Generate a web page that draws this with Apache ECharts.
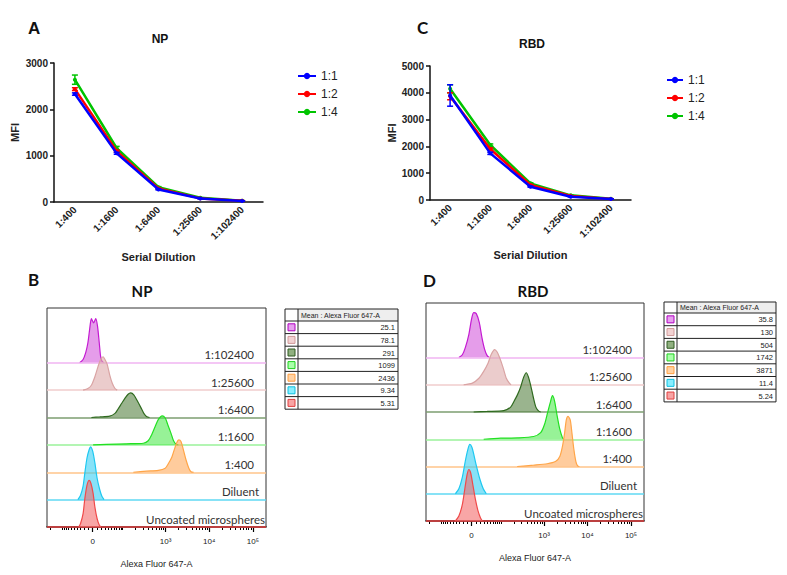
<!DOCTYPE html>
<html><head><meta charset="utf-8">
<script src="https://cdn.jsdelivr.net/npm/echarts@6/dist/echarts.min.js"></script>
<style>html,body{margin:0;padding:0;background:#fff}#c{width:787px;height:575px}</style>
</head><body><div id="c"></div>
<script>
// ---------- Data: line charts (A: NP, C: RBD) ----------
const dilutions = ['1:400', '1:1600', '1:6400', '1:25600', '1:102400'];
const ratioNames = ['1:1', '1:2', '1:4'];
const ratioColors = ['#0000ff', '#ff0000', '#00c400'];

const npMean11 = [2330, 1050, 270, 75, 20];
const npMean12 = [2436, 1099, 291, 78, 25];
const npMean14 = [2640, 1160, 320, 90, 28];
const npSd11 = [25, 20, 10, 5, 3];
const npSd12 = [30, 20, 10, 5, 3];
const npSd14 = [100, 40, 12, 6, 3];

const rbdMean11 = [3900, 1741, 497, 124, 37];
const rbdMean12 = [3870, 1903, 560, 150, 40];
const rbdMean14 = [4150, 2052, 622, 174, 45];
const rbdSd11 = [400, 40, 20, 8, 3];
const rbdSd12 = [130, 40, 20, 8, 3];
const rbdSd14 = [150, 40, 20, 8, 3];

const npYTicks = [0, 1000, 2000, 3000];
const rbdYTicks = [0, 1000, 2000, 3000, 4000, 5000];

// ---------- Data: offset histograms (B: NP, D: RBD) ----------
// rows from bottom to top
const histRowLabels = ['Uncoated microspheres', 'Diluent', '1:400', '1:1600', '1:6400', '1:25600', '1:102400'];
// [transformed Alexa Fluor 647-A position, count]
const npRed      = [[-0.32,0],[-0.28,12],[-0.22,49],[-0.18,104],[-0.13,153],[-0.08,170],[-0.04,159],[0.01,122],[0.05,73],[0.10,31],[0.15,7],[0.19,0]];
const npCyan     = [[-0.34,0],[-0.28,15],[-0.22,49],[-0.18,98],[-0.13,153],[-0.08,183],[-0.05,193],[0.00,177],[0.05,134],[0.10,79],[0.16,37],[0.21,12],[0.26,0]];
const npOrange   = [[0.93,0],[1.23,4],[1.50,7],[1.66,15],[1.73,31],[1.81,55],[1.86,79],[1.92,107],[1.97,118],[2.02,112],[2.08,79],[2.14,43],[2.20,15],[2.25,2],[2.31,0]];
const npGreen    = [[0.01,0],[0.31,2],[0.77,4],[1.16,6],[1.27,15],[1.35,37],[1.43,67],[1.50,92],[1.59,106],[1.66,98],[1.72,73],[1.79,43],[1.85,15],[1.91,2],[1.96,0]];
const npDkGreen  = [[-0.03,0],[0.16,2],[0.39,5],[0.51,15],[0.58,31],[0.66,51],[0.74,71],[0.81,85],[0.87,90],[0.94,83],[1.02,61],[1.10,37],[1.17,15],[1.23,4],[1.30,0]];
const npPink     = [[-0.22,0],[-0.11,6],[-0.03,18],[0.05,49],[0.12,85],[0.18,112],[0.24,122],[0.28,112],[0.33,95],[0.39,55],[0.45,24],[0.51,6],[0.56,0]];
const npMagenta  = [[-0.30,0],[-0.22,12],[-0.16,37],[-0.11,73],[-0.07,122],[-0.03,161],[0.02,146],[0.07,161],[0.11,134],[0.15,73],[0.18,24],[0.21,6],[0.25,0]];

const rbdRed     = [[-0.37,0],[-0.29,18],[-0.21,61],[-0.15,122],[-0.10,171],[-0.06,189],[-0.02,177],[0.03,134],[0.09,79],[0.15,37],[0.21,10],[0.25,0]];
const rbdCyan    = [[-0.37,0],[-0.29,18],[-0.21,61],[-0.14,122],[-0.08,165],[-0.04,181],[0.01,171],[0.05,146],[0.11,104],[0.19,55],[0.27,18],[0.34,0]];
const rbdOrange  = [[1.05,0],[1.43,5],[1.74,10],[1.93,18],[2.03,37],[2.09,73],[2.14,122],[2.18,171],[2.22,184],[2.27,171],[2.31,122],[2.35,67],[2.40,18],[2.44,2],[2.48,0]];
const rbdGreen   = [[0.28,0],[0.67,4],[1.05,5],[1.43,10],[1.59,24],[1.68,55],[1.75,98],[1.82,140],[1.86,160],[1.91,140],[1.97,85],[2.03,37],[2.09,6],[2.12,0]];
const rbdDkGreen = [[0.05,0],[0.36,2],[0.74,5],[0.90,18],[0.97,37],[1.05,61],[1.13,92],[1.20,128],[1.26,144],[1.31,128],[1.36,98],[1.42,55],[1.48,18],[1.54,4],[1.59,0]];
const rbdPink    = [[-0.18,0],[0.02,6],[0.17,24],[0.28,49],[0.38,79],[0.45,110],[0.53,129],[0.59,120],[0.65,98],[0.73,61],[0.80,24],[0.87,6],[0.91,0]];
const rbdMagenta = [[-0.29,0],[-0.21,10],[-0.14,37],[-0.06,85],[0.00,140],[0.05,165],[0.11,161],[0.18,128],[0.24,73],[0.30,31],[0.36,7],[0.41,0]];

// axis ticks of the fluorescence axis (raw intensities)
const xMajorValues = [0, 1000, 10000, 100000];
const xMajorLabels = ['0', '10³', '10⁴', '10⁵'];
const xMinorValues = [-200, -100, -90, -80, -70, -60, -50, -40, -30, -20, -10,
  10, 20, 30, 40, 50, 60, 70, 80, 90, 100, 200, 300, 400, 500, 600, 700, 800, 900,
  2000, 3000, 4000, 5000, 6000, 7000, 8000, 9000,
  20000, 30000, 40000, 50000, 60000, 70000, 80000, 90000];

// tables (top to bottom: 1:102400 ... Uncoated)
const tableHeader = 'Mean : Alexa Fluor 647-A';
const npTableValues = ['25.1', '78.1', '291', '1099', '2436', '9.34', '5.31'];
const rbdTableValues = ['35.8', '130', '504', '1742', '3871', '11.4', '5.24'];

// ---------- styles ----------
const histLine = ['#ef4a4a', '#1ec8f0', '#ffa548', '#22e022', '#2f6a1f', '#d9a3a3', '#c41ad2'];
const histFill = ['rgba(243,105,105,0.85)', 'rgba(45,205,242,0.82)', 'rgba(255,170,90,0.85)', 'rgba(70,232,70,0.8)',
                  'rgba(85,130,65,0.85)', 'rgba(222,170,170,0.85)', 'rgba(208,80,218,0.8)'];
const histBase = ['#ef4a4a', '#5fd8f3', '#ffc48a', '#9af29a', '#7d9e70', '#f0cccc', '#f0b4f2'];
const histLabelPad = [1, 7, 12, 12, 12, 12, 12];
// swatches listed top to bottom (reverse of rows)
const swFill = ['#e6a0ee', '#f2d2d2', '#90b080', '#aaffaa', '#ffd2a4', '#88eeff', '#f8a4a4'];
const swStroke = ['#b000c0', '#d09a9a', '#2f5a20', '#20d020', '#ff9f40', '#10c0e0', '#e04040'];

const W = 43;
function T(v) { const s = v < 0 ? -1 : 1; return s * Math.asinh(Math.abs(v) / W) / Math.LN10; }
const U_MIN = -1.046, U_MAX = 3.966;

const chart = echarts.init(document.getElementById('c'), null, { renderer: 'svg' });

const AX = '#111';
const lineFont = 'Liberation Sans';

function lineXAxis(grid, gap) {
  return {
    type: 'category', gridIndex: grid, data: dilutions, boundaryGap: true,
    axisLine: { lineStyle: { color: AX, width: 1.5 } },
    axisTick: { alignWithLabel: true, length: 4, lineStyle: { color: AX, width: 1.5 } },
    axisLabel: { rotate: 45, fontSize: 10, fontWeight: 'bold', color: '#222', fontFamily: lineFont, margin: 6 },
    name: 'Serial Dilution', nameLocation: 'middle', nameGap: gap,
    nameTextStyle: { fontSize: 11, fontWeight: 'bold', color: '#222', fontFamily: lineFont }
  };
}
function lineYAxis(grid, ticks, gap) {
  return {
    type: 'value', gridIndex: grid, min: ticks[0], max: ticks[ticks.length - 1], interval: ticks[1] - ticks[0],
    axisLine: { show: true, lineStyle: { color: AX, width: 1.5 } },
    axisTick: { show: true, length: 4, lineStyle: { color: AX, width: 1.5 } },
    splitLine: { show: false },
    axisLabel: { fontSize: 10, fontWeight: 'bold', color: '#222', fontFamily: lineFont, margin: 6,
                 formatter: v => String(v) },
    name: 'MFI', nameLocation: 'middle', nameGap: gap, nameRotate: 90,
    nameTextStyle: { fontSize: 11, fontWeight: 'bold', color: '#222', fontFamily: lineFont }
  };
}
function histXAxes(grid) {
  const major = xMajorValues.map(T);
  return [{
    type: 'value', gridIndex: grid, min: U_MIN, max: U_MAX, position: 'bottom',
    axisLine: { onZero: false, lineStyle: { color: '#000', width: 1.5 } },
    axisTick: { show: true, customValues: major, length: 5, lineStyle: { color: '#000', width: 1.2 } },
    axisLabel: {
      customValues: major, fontSize: 8, color: '#222', fontFamily: lineFont, margin: 10,
      formatter: function (val) {
        for (let i = 0; i < major.length; i++) if (Math.abs(major[i] - val) < 1e-6) return xMajorLabels[i];
        return '';
      }
    },
    splitLine: { show: false },
    name: 'Alexa Fluor 647-A', nameLocation: 'middle', nameGap: 32,
    nameTextStyle: { fontSize: 9, color: '#222', fontFamily: lineFont }
  }, {
    type: 'value', gridIndex: grid, min: U_MIN, max: U_MAX, position: 'bottom', offset: 0,
    axisLine: { show: false, onZero: false },
    axisTick: { show: true, customValues: xMinorValues.map(T).filter(u => u > U_MIN && u < U_MAX), length: 3, lineStyle: { color: '#000', width: 1 } },
    axisLabel: { show: false }, splitLine: { show: false }
  }];
}
function histYAxis(grid) {
  return { type: 'value', gridIndex: grid, min: 0, max: 800, show: false, splitLine: { show: false } };
}

function errRender(params, api) {
  const x = api.value(0), lo = api.value(1), hi = api.value(2);
  const a = api.coord([x, lo]), b = api.coord([x, hi]);
  const w = 3;
  const style = { stroke: api.visual('color'), lineWidth: 1.5 };
  return { type: 'group', children: [
    { type: 'line', shape: { x1: b[0], y1: b[1], x2: a[0], y2: a[1] }, style },
    { type: 'line', shape: { x1: b[0] - w, y1: b[1], x2: b[0] + w, y2: b[1] }, style },
    { type: 'line', shape: { x1: a[0] - w, y1: a[1], x2: a[0] + w, y2: a[1] }, style }
  ] };
}

const series = [];
function addLineSet(grid, means, sds) {
  means.forEach((m, i) => {
    const color = ratioColors[i];
    series.push({
      type: 'line', name: ratioNames[i], xAxisIndex: grid, yAxisIndex: grid, data: m,
      symbol: 'circle', symbolSize: 4, lineStyle: { width: 2.5, color }, itemStyle: { color },
      z: 6 - i, animation: false
    });
    series.push({
      type: 'custom', name: ratioNames[i] + ' SD', xAxisIndex: grid, yAxisIndex: grid,
      data: m.map((v, k) => [k, v - sds[i][k], v + sds[i][k]]),
      encode: { x: 0, y: [1, 2] }, renderItem: errRender, itemStyle: { color }, z: 6 - i, animation: false
    });
  });
}
addLineSet(0, [npMean11, npMean12, npMean14], [npSd11, npSd12, npSd14]);
addLineSet(1, [rbdMean11, rbdMean12, rbdMean14], [rbdSd11, rbdSd12, rbdSd14]);

function addHistSet(prefix, xIdx, yIdx, hists) {
  hists.forEach((h, row) => {
    const off = row * 100;
    series.push({
      type: 'line', name: prefix + ' ' + histRowLabels[row], xAxisIndex: xIdx, yAxisIndex: yIdx,
      data: h.map(p => [p[0], off + p[1]]), smooth: 0.25, symbol: 'none',
      lineStyle: { color: histLine[row], width: 1.2 },
      areaStyle: { color: histFill[row], origin: off },
      z: 10 - row, animation: false, silent: true,
      markLine: {
        silent: true, symbol: 'none', animation: false,
        lineStyle: { color: histBase[row], width: 1.6, type: 'solid' },
        label: { show: true, position: 'insideEndTop', distance: [histLabelPad[row], 2], formatter: histRowLabels[row],
                 fontSize: 11.5, fontFamily: 'Lato', color: '#333' },
        data: [{ yAxis: off }]
      }
    });
  });
}
addHistSet('NP', 2, 2, [npRed, npCyan, npOrange, npGreen, npDkGreen, npPink, npMagenta]);
addHistSet('RBD', 4, 3, [rbdRed, rbdCyan, rbdOrange, rbdGreen, rbdDkGreen, rbdPink, rbdMagenta]);

function buildTable(x0, y0, width, headH, rowH, c1, values) {
  const ch = [];
  const h = headH + rowH * values.length;
  ch.push({ type: 'rect', shape: { x: c1, y: 0, width: width - c1, height: headH }, style: { fill: '#eeeeee', stroke: null } });
  ch.push({ type: 'rect', shape: { x: 0, y: 0, width: width, height: h }, style: { fill: 'none', stroke: '#222', lineWidth: 1 } });
  ch.push({ type: 'line', shape: { x1: c1, y1: 0, x2: c1, y2: h }, style: { stroke: '#222', lineWidth: 1 } });
  ch.push({ type: 'text', x: c1 + 3, y: headH / 2, style: { text: tableHeader, fontSize: 7, fontFamily: lineFont, fill: '#222', verticalAlign: 'middle', align: 'left' } });
  values.forEach((v, i) => {
    const y = headH + rowH * i;
    ch.push({ type: 'line', shape: { x1: 0, y1: y, x2: width, y2: y }, style: { stroke: '#222', lineWidth: 1 } });
    ch.push({ type: 'rect', shape: { x: c1 / 2 - 3.5, y: y + rowH / 2 - 3.5, width: 7, height: 7 }, style: { fill: swFill[i], stroke: swStroke[i], lineWidth: 1 } });
    ch.push({ type: 'text', x: width - 3, y: y + rowH / 2 + 0.5, style: { text: v, fontSize: 7.5, fontFamily: lineFont, fill: '#222', verticalAlign: 'middle', align: 'right' } });
  });
  return { type: 'group', x: x0, y: y0, children: ch, silent: true };
}

function ttl(text, x, y, size, align, fam) {
  return { text, left: x, top: y, padding: 0, textAlign: align,
    textStyle: { fontSize: size, fontWeight: 'bold', color: '#111', fontFamily: fam } };
}

const xAxes = [lineXAxis(0, 49), lineXAxis(1, 49)].concat(histXAxes(2), histXAxes(3));

chart.setOption({
  backgroundColor: '#fff',
  animation: false,
  title: [
    ttl('A', 28, 20, 17, 'left', lineFont),
    ttl('NP', 160, 33, 12, 'center', lineFont),
    ttl('C', 417, 19, 17, 'left', 'Lato'),
    ttl('RBD', 532, 38, 12, 'center', lineFont),
    ttl('B', 28, 271, 17, 'left', 'Lato'),
    ttl('NP', 142, 283, 15, 'center', 'Lato'),
    ttl('D', 423, 272, 17, 'left', 'Lato'),
    ttl('RBD', 533, 283, 15, 'center', 'Lato')
  ],
  legend: [
    { data: ratioNames, orient: 'vertical', left: 292, top: 65, itemWidth: 18, itemHeight: 8, itemGap: 6,
      textStyle: { fontSize: 12, fontFamily: lineFont, color: '#222' }, selectedMode: false },
    { data: ratioNames, orient: 'vertical', left: 661, top: 69, itemWidth: 16, itemHeight: 8, itemGap: 6,
      textStyle: { fontSize: 12, fontFamily: lineFont, color: '#222' }, selectedMode: false }
  ],
  grid: [
    { left: 54, top: 63, width: 209, height: 139 },
    { left: 430, top: 66, width: 201, height: 134 },
    { left: 47, top: 308, width: 219, height: 219, show: true, borderColor: '#333', borderWidth: 1, backgroundColor: 'transparent' },
    { left: 426, top: 303, width: 218, height: 218, show: true, borderColor: '#333', borderWidth: 1, backgroundColor: 'transparent' }
  ],
  xAxis: xAxes,
  yAxis: [lineYAxis(0, npYTicks, 34), lineYAxis(1, rbdYTicks, 31), histYAxis(2), histYAxis(3)],
  series: series,
  graphic: [
    buildTable(285, 309, 113, 12, 12.6, 13, npTableValues),
    buildTable(664, 302, 112, 11, 12.7, 13, rbdTableValues)
  ]
});
</script></body></html>
